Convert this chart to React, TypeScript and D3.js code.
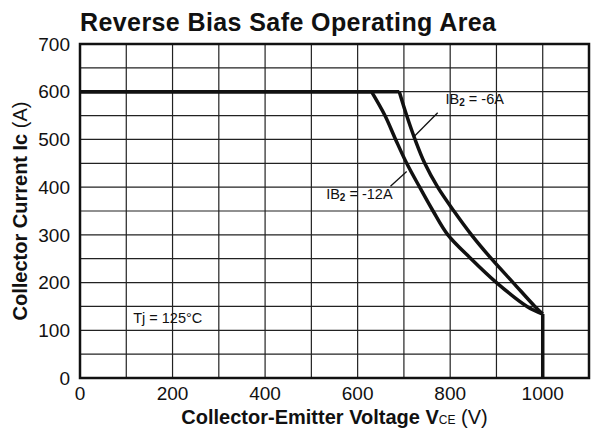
import React from 'react';
import * as d3 from 'd3';

// Reverse bias SOA
const xTicks = [0, 200, 400, 600, 800, 1000];
const yTicks = [0, 100, 200, 300, 400, 500, 600, 700];

const ib12: [number, number][] = [
  [0, 600], [630, 600], [659, 550], [682, 500], [706, 450], [734, 400],
  [763, 350], [795, 300], [845, 250], [900, 200], [966, 150], [1000, 134], [1000, 0],
];
const ib6: [number, number][] = [
  [0, 600], [690, 600], [706, 550], [724, 500], [745, 450], [773, 400],
  [808, 350], [846, 300], [889, 250], [936, 200], [983, 150], [1000, 134],
];

// label anchor + leader line (data coords)
const label6 = { text: '-6A', at: [790, 575], from: [773, 556], to: [720, 504] };
const label12 = { text: '-12A', at: [532, 375], from: [671, 402], to: [706, 433] };

const W = 604;
const H = 432;
const margin = { top: 44, right: 15, bottom: 54, left: 80 };
const font = '"Liberation Sans", Arial, Helvetica, sans-serif';

const App: React.FC = () => {
  const x = d3.scaleLinear().domain([0, 1100]).range([margin.left, W - margin.right]);
  const y = d3.scaleLinear().domain([0, 700]).range([H - margin.bottom, margin.top]);

  const straight = d3.line<[number, number]>().x(d => x(d[0])).y(d => y(d[1]));
  const smooth = d3.line<[number, number]>()
    .x(d => x(d[0]))
    .y(d => y(d[1]))
    .curve(d3.curveCatmullRom.alpha(0.5));

  // flat top, bent middle, vertical drop at the end
  const seriesPath = (pts: [number, number][]) => {
    const last = pts[pts.length - 1];
    const endsVertical = last[1] === 0;
    const bendEnd = endsVertical ? pts.length - 1 : pts.length;
    return (straight(pts.slice(0, 2)) ?? '') +
      (smooth(pts.slice(1, bendEnd)) ?? '') +
      (endsVertical ? straight(pts.slice(-2)) ?? '' : '');
  };

  const vGrid = d3.range(0, 1101, 100);
  const hGrid = d3.range(0, 701, 50);

  const ibLabel = (l: typeof label6) => (
    <g>
      <line x1={x(l.from[0])} y1={y(l.from[1])} x2={x(l.to[0])} y2={y(l.to[1])}
        stroke="#111" strokeWidth={1.3} />
      <text x={x(l.at[0])} y={y(l.at[1])} fontSize={14.5} fontFamily={font} fill="#111">
        IB<tspan fontSize={10} fontWeight="bold" dy={2}>2</tspan>
        <tspan dy={-2}> = {l.text}</tspan>
      </text>
    </g>
  );

  return (
    <svg width={W} height={H} style={{ position: 'absolute', left: 0, top: 0, background: '#fff' }}>
      <rect width={W} height={H} fill="#fff" />
      <text x={80} y={31} fontSize={25} fontWeight="bold" fontFamily={font} fill="#111"
        textLength={416} lengthAdjust="spacing">
        Reverse Bias Safe Operating Area
      </text>

      {/* grid */}
      {vGrid.map(v => (
        <line key={'v' + v} x1={x(v)} x2={x(v)} y1={y(0)} y2={y(700)} stroke="#222" strokeWidth={1.2} />
      ))}
      {hGrid.map(v => (
        <line key={'h' + v} x1={x(0)} x2={x(1100)} y1={y(v)} y2={y(v)} stroke="#222" strokeWidth={1.2} />
      ))}
      <rect x={x(0)} y={y(700)} width={x(1100) - x(0)} height={y(0) - y(700)}
        fill="none" stroke="#111" strokeWidth={2.5} />

      {/* curves */}
      <path d={seriesPath(ib6)} fill="none" stroke="#111" strokeWidth={3.5} strokeLinejoin="round" />
      <path d={seriesPath(ib12)} fill="none" stroke="#111" strokeWidth={3.5} strokeLinejoin="round" />

      {ibLabel(label6)}
      {ibLabel(label12)}

      <text x={x(115)} y={y(115)} fontSize={14.5} fontFamily={font} fill="#111">Tj = 125°C</text>

      {/* axes */}
      {yTicks.map(t => (
        <text key={'yt' + t} x={margin.left - 10} y={y(t)} dy="0.35em" textAnchor="end"
          fontSize={19} fontFamily={font} fill="#111">{t}</text>
      ))}
      {xTicks.map(t => (
        <text key={'xt' + t} x={x(t)} y={400} textAnchor="middle"
          fontSize={19} fontFamily={font} fill="#111">{t}</text>
      ))}

      <text x={(x(0) + x(1100)) / 2} y={424} textAnchor="middle" fontSize={20} fontWeight="bold"
        fontFamily={font} fill="#111">
        Collector-Emitter Voltage V<tspan fontSize={12} fontWeight="normal">CE</tspan>
        <tspan fontWeight="normal"> (V)</tspan>
      </text>
      <text transform={`translate(27,${(y(0) + y(700)) / 2}) rotate(-90)`} textAnchor="middle"
        fontSize={20} fontWeight="bold" fontFamily={font} fill="#111">
        Collector Current Ic<tspan fontWeight="normal"> (A)</tspan>
      </text>
    </svg>
  );
};

export default App;
